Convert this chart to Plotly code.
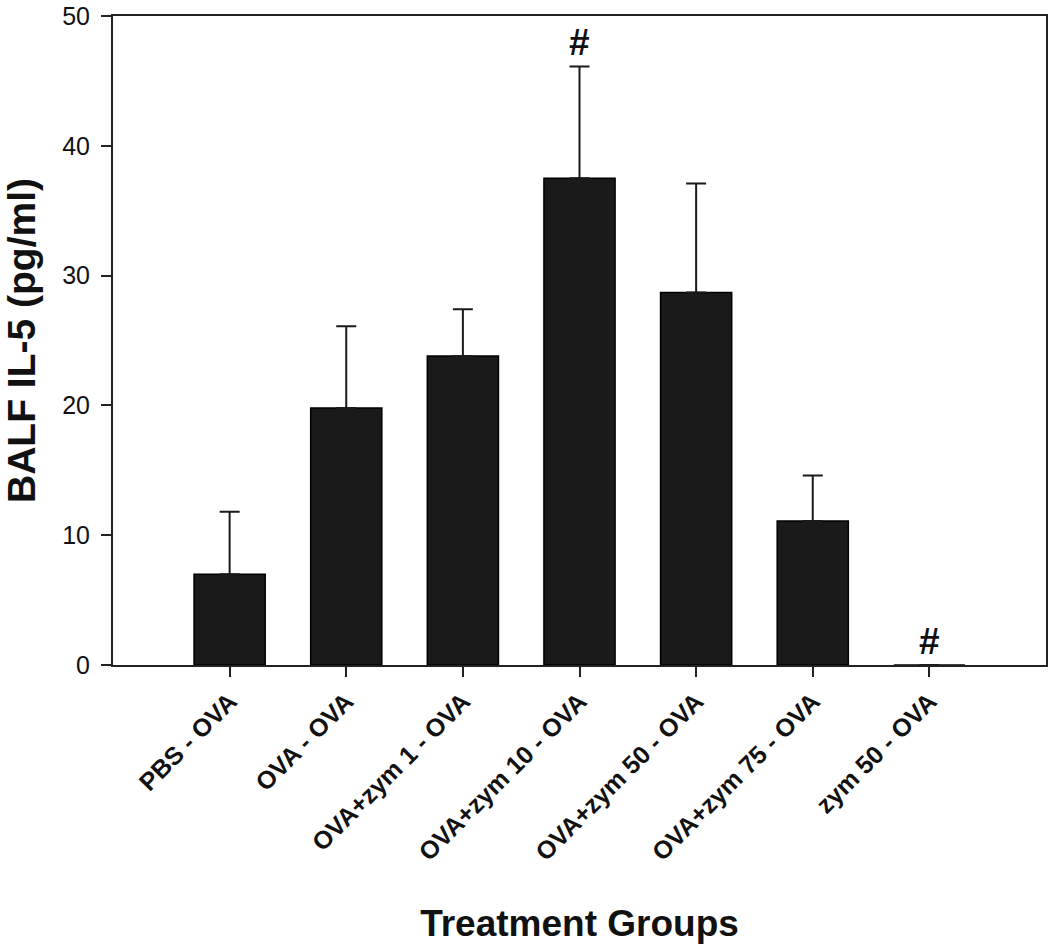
import plotly.graph_objects as go

categories = ["PBS - OVA", "OVA - OVA", "OVA+zym 1 - OVA", "OVA+zym 10 - OVA",
              "OVA+zym 50 - OVA", "OVA+zym 75 - OVA", "zym 50 - OVA"]
il5_mean = [7.0, 19.8, 23.8, 37.5, 28.7, 11.1, 0.0]
il5_err = [4.8, 6.3, 3.6, 8.6, 8.4, 3.5, 0.0]
marker_text = ["", "", "", "#", "", "", "#"]
y_ticks = [0, 10, 20, 30, 40, 50]

x_idx = list(range(len(categories)))
FONT = "Liberation Sans, Arial, Helvetica, sans-serif"

fig = go.Figure()
fig.add_trace(go.Bar(
    x=x_idx, y=il5_mean, width=0.61,
    marker=dict(color="#1a1a1a", line=dict(color="#000000", width=1.5)),
    error_y=dict(type="data", array=il5_err, symmetric=False,
                 arrayminus=[0] * len(il5_err), color="#1a1a1a",
                 thickness=2, width=10, visible=True),
    showlegend=False, hoverinfo="x+y",
))

for i, (m, e, t) in enumerate(zip(il5_mean, il5_err, marker_text)):
    if t:
        fig.add_annotation(x=i, y=m + e, text="<b>" + t + "</b>", showarrow=False,
                           yanchor="bottom", yshift=2 if m > 0 else 1,
                           font=dict(family=FONT, size=37, color="#111111"))

fig.update_layout(
    width=1050, height=946,
    margin=dict(l=113, r=2, t=10, b=281),
    paper_bgcolor="white", plot_bgcolor="white",
    font=dict(family=FONT, color="#111111"),
    xaxis=dict(
        range=[-1, 7], tickmode="array", tickvals=x_idx,
        ticktext=["<b>" + c + "</b>" for c in categories],
        tickangle=-45, tickfont=dict(size=25, family=FONT, color="#111111"),
        ticks="outside", ticklen=10, tickwidth=2, tickcolor="#222222",
        showline=True, linecolor="#222222", linewidth=2, mirror=True,
        showgrid=False, zeroline=False,
        title=dict(text="<b>Treatment Groups</b>", font=dict(size=37, family=FONT, color="#111111"),
                   standoff=45),
    ),
    yaxis=dict(
        range=[0, 50], tickvals=y_ticks, ticklabeloverflow="allow",
        tickfont=dict(size=25, family=FONT, color="#111111"),
        ticks="outside", ticklen=10, tickwidth=2, tickcolor="#222222",
        ticklabelstandoff=6,
        showline=True, linecolor="#222222", linewidth=2, mirror=True,
        showgrid=False, zeroline=False,
        title=dict(text="<b>BALF IL-5 (pg/ml)</b>", font=dict(size=39, family=FONT, color="#111111"),
                   standoff=19),
    ),
)

fig.write_html("out.html", config={"displayModeBar": False},
               post_script="document.body.style.margin='0px';")
